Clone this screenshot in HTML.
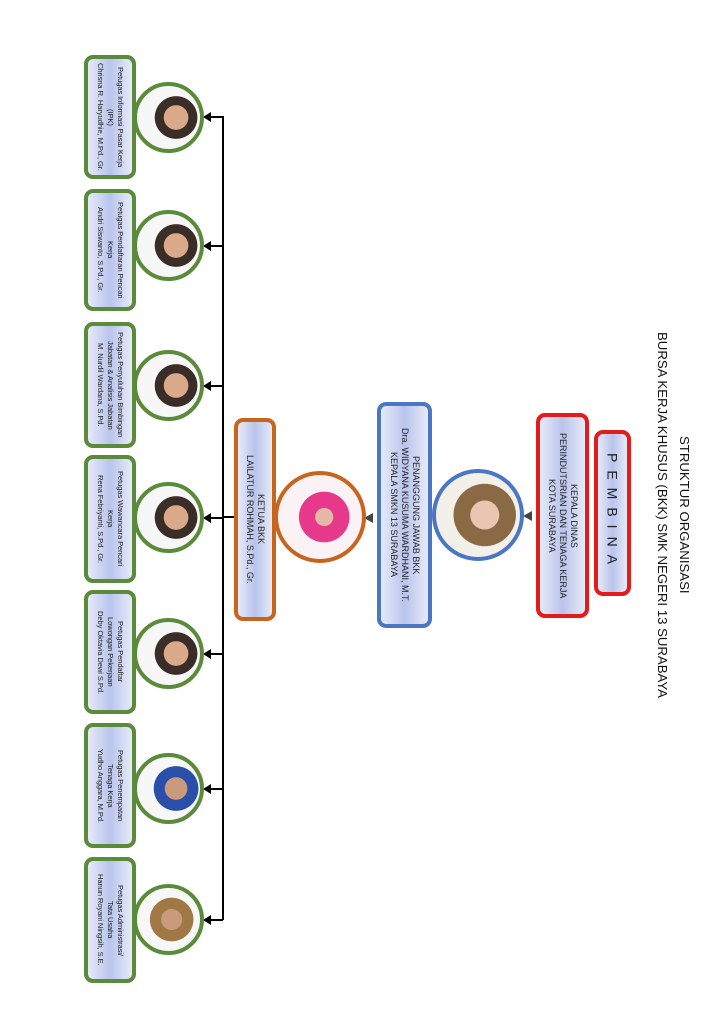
<!DOCTYPE html>
<html><head><meta charset="utf-8"><style>
body{margin:0;width:724px;height:1024px;background:#fff;position:relative;overflow:hidden;font-family:"Liberation Sans",sans-serif}
.a{position:absolute;box-sizing:border-box}
.v{writing-mode:vertical-rl;display:flex;align-items:center;justify-content:center;text-align:center;color:#222;white-space:nowrap}
.box{border-radius:9px;background:linear-gradient(to right,#e6eaf8,#b9c4ec 50%,#e6eaf8)}
.g{border:4px solid #5b8a3a;font-size:7.6px;line-height:10px;left:84px;width:52px;letter-spacing:-0.1px}
.c{border-radius:50%;background:radial-gradient(circle at 62% 50%,#d9a989 0 24%,#3a2c26 25% 42%,#f7f7f7 43%)}
.gc{border:4px solid #5b8a3a;left:133px;width:71px;height:71px}
.h{height:2px;background:#000;left:206px;width:17px}
.ar{width:0;height:0;border-top:5px solid transparent;border-bottom:5px solid transparent;border-right:8px solid #000;left:203px}
</style></head><body>
<div class="a v" style="left:648px;top:300px;width:50px;height:430px;font-size:13.2px;line-height:22px;color:#111">STRUKTUR ORGANISASI<br>BURSA KERJA KHUSUS (BKK) SMK NEGERI 13 SURABAYA</div>
<div class="a v box" style="left:594px;top:430px;width:37px;height:166px;border:4px solid #e31b1b;font-size:14px;letter-spacing:8px">PEMBINA</div>
<div class="a v box" style="left:536px;top:413px;width:53px;height:205px;border:4px solid #e31b1b;font-size:9px;line-height:11px">KEPALA DINAS<br>PERINDUTSRIAN DAN TENAGA KERJA<br>KOTA SURABAYA</div>
<div class="a" style="left:523px;top:511px;width:0;height:0;border-top:5px solid transparent;border-bottom:5px solid transparent;border-right:9px solid #444"></div>
<div class="a c" style="left:432px;top:469px;width:92px;height:92px;border:4px solid #4a76c4;background:radial-gradient(circle at 58% 50%,#e8c6b0 0 22%,#8a6a45 23% 48%,#f3f0ea 49%)"></div>
<div class="a v box" style="left:377px;top:402px;width:55px;height:226px;border:4px solid #4a76c4;font-size:9px;line-height:11px">PENANGGUNG JAWAB BKK<br>Dra. WIDYANA KUSUMA WARDHANI, M.T.<br>KEPALA SMKN 13 SURABAYA</div>
<div class="a" style="left:364px;top:513px;width:0;height:0;border-top:5px solid transparent;border-bottom:5px solid transparent;border-right:9px solid #444"></div>
<div class="a c" style="left:274px;top:471px;width:92px;height:92px;border:4px solid #c8651c;background:radial-gradient(circle at 55% 50%,#e6b9a6 0 14%,#e6398b 15% 40%,#fbf2f6 41%)"></div>
<div class="a v box" style="left:234px;top:418px;width:42px;height:203px;border:4px solid #c8651c;font-size:9px;line-height:11px">KETUA BKK<br>LAILATUR ROHMAH, S.Pd., Gr.</div>
<div class="a" style="left:222px;top:116px;width:2px;height:804px;background:#000"></div>
<div class="a" style="left:222px;top:516px;width:12px;height:2px;background:#000"></div>

<div class="a h" style="top:116px"></div><div class="a ar" style="top:112px"></div>
<div class="a h" style="top:245px"></div><div class="a ar" style="top:241px"></div>
<div class="a h" style="top:385px"></div><div class="a ar" style="top:381px"></div>
<div class="a h" style="top:517px"></div><div class="a ar" style="top:513px"></div>
<div class="a h" style="top:653px"></div><div class="a ar" style="top:649px"></div>
<div class="a h" style="top:788px"></div><div class="a ar" style="top:784px"></div>
<div class="a h" style="top:919px"></div><div class="a ar" style="top:915px"></div>

<div class="a c gc" style="top:82px"></div>
<div class="a c gc" style="top:210px"></div>
<div class="a c gc" style="top:350px"></div>
<div class="a c gc" style="top:482px"></div>
<div class="a c gc" style="top:618px"></div>
<div class="a c gc" style="top:753px;background:radial-gradient(circle at 62% 50%,#c99a7c 0 22%,#2a4fa8 23% 44%,#f7f7f7 45%)"></div>
<div class="a c gc" style="top:884px;background:radial-gradient(circle at 55% 50%,#c99a7c 0 22%,#a07845 23% 46%,#f7f7f7 47%)"></div>

<div class="a v box g" style="top:55px;height:124px">Petugas Informasi Pasar Kerja<br>(IPK)<br>Chrisna R. Haryudhie, M.Pd., Gr.</div>
<div class="a v box g" style="top:189px;height:122px">Petugas Pendaftaran Pencari<br>Kerja<br>Andri Siswanto, S.Pd., Gr.</div>
<div class="a v box g" style="top:322px;height:126px">Petugas Penyuluhan Bimbingan<br>Jabatan &amp; Analisis Jabatan<br>M. Nurdil Wardana, S.Pd.</div>
<div class="a v box g" style="top:455px;height:128px">Petugas Wawancara Pencari<br>Kerja<br>Rena Febriyanti, S.Pd., Gr.</div>
<div class="a v box g" style="top:590px;height:124px">Petugas Pendaftar<br>Lowongan Pekerjaan<br>Deby Oktavia Dewi S.Pd.</div>
<div class="a v box g" style="top:723px;height:125px">Petugas Penempatan<br>Tenaga Kerja<br>Yudho Anggara, M.Pd.</div>
<div class="a v box g" style="top:857px;height:126px">Petugas Administrasi/<br>Tata Usaha<br>Hanun Royani Ningsih, S.E.</div>
</body></html>
